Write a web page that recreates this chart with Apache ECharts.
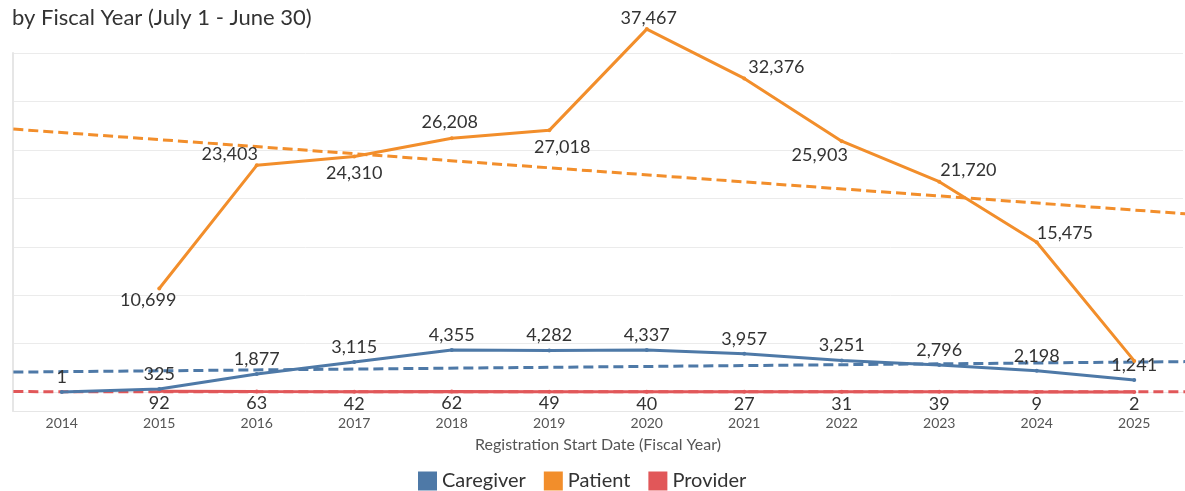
<!DOCTYPE html>
<html>
<head>
<meta charset="utf-8">
<script src="https://cdn.jsdelivr.net/npm/echarts@6/dist/echarts.min.js"></script>
<style>
	html, body { margin: 0; padding: 0; background: #fff; }
	#chart { width: 1185px; height: 491px; }
</style>
</head>
<body>
<div id="chart"></div>
<script>
// registrations by fiscal year
var years = ["2014", "2015", "2016", "2017", "2018", "2019", "2020", "2021", "2022", "2023", "2024", "2025"];
var caregiver = [1, 325, 1877, 3115, 4355, 4282, 4337, 3957, 3251, 2796, 2198, 1241];
var patient = [null, 10699, 23403, 24310, 26208, 27018, 37467, 32376, 25903, 21720, 15475, 3220];
var provider = [null, 92, 63, 42, 62, 49, 40, 27, 31, 39, 9, 2];

// trend lines, read at the left and right edges of the picture
var trendX = [-0.65, 11.55];
var patientTrend = [27260, 18390];
var caregiverTrend = [2050, 3150];
var providerTrend = [50, 40];

// horizontal grid lines
var gridValues = [0, 5000, 10000, 15000, 20000, 25000, 30000, 35000];

var chart = echarts.init(document.getElementById("chart"), null, { renderer: "canvas" });

var colors = {
	caregiver: "#4e79a7",
	patient: "#f28e2b",
	provider: "#e15759"
};
var font = "Lato, 'Open Sans', sans-serif";

// where each patient label sits (position, dx, dy)
var patientLabelPos = [
	null,
	["bottom", -11, -4],
	["top", -27, 5],
	["bottom", 0, 1],
	["top", -2, 0],
	["bottom", 13, 1],
	["top", 2, 5],
	["right", -3, -11],
	["bottom", -22, -2],
	["right", -6, -11],
	["right", -7, -9],
	null
];

function fmt(p) {
	var v = Array.isArray(p.value) ? p.value[1] : p.value;
	return v == null ? "" : Number(v).toLocaleString("en-US");
}

var labelStyle = {
	show: true,
	fontSize: 18,
	color: "#333",
	fontFamily: font,
	formatter: fmt
};

var patientData = patient.map(function (v, i) {
	var pos = patientLabelPos[i];
	if (!pos) return { value: v, label: { show: false } };
	return { value: v, label: { position: pos[0], offset: [pos[1], pos[2]] } };
});

function trend(name, vals, color) {
	return {
		name: name + " trend",
		type: "line",
		xAxisIndex: 1,
		data: [[trendX[0], vals[0]], [trendX[1], vals[1]]],
		showSymbol: false,
		clip: false,
		silent: true,
		z: 2,
		lineStyle: { color: color, width: 3, type: [10, 5] },
		animation: false
	};
}

var option = {
	animation: false,
	title: {
		text: "by Fiscal Year (July 1 - June 30)",
		left: 7,
		top: 2,
		textStyle: { fontSize: 22, fontWeight: "normal", color: "#333", fontFamily: font }
	},
	legend: {
		data: ["Caregiver", "Patient", "Provider"],
		left: 413,
		top: 466,
		icon: "rect",
		itemWidth: 19,
		itemHeight: 19,
		itemGap: 18,
		textStyle: { fontSize: 20, color: "#333", fontFamily: font }
	},
	grid: { left: 13, right: 2, top: 53, bottom: 80 },
	xAxis: [
		{
			type: "category",
			data: years,
			name: "Registration Start Date (Fiscal Year)",
			nameLocation: "middle",
			nameGap: 26,
			nameTextStyle: { fontSize: 16, color: "#555", fontFamily: font },
			axisLine: { show: true, onZero: false, lineStyle: { color: "#e6e6e6", width: 1 } },
			axisTick: { show: false },
			axisLabel: { color: "#555", fontSize: 14, margin: 5, fontFamily: font }
		},
		{
			type: "value",
			min: -0.5,
			max: 11.5,
			show: false
		}
	],
	yAxis: {
		type: "value",
		min: -1950,
		max: 35000,
		axisLine: { show: true, onZero: false, lineStyle: { color: "#e6e6e6", width: 2 } },
		axisTick: { show: false },
		axisLabel: { show: false },
		splitLine: { show: false }
	},
	series: [
		{
			name: "grid",
			type: "line",
			data: [],
			silent: true,
			z: 0,
			markLine: {
				z: 0,
				silent: true,
				symbol: ["none", "none"],
				label: { show: false },
				lineStyle: { color: "#ebebeb", type: "solid", width: 1 },
				data: gridValues.map(function (v) { return { yAxis: v }; })
			}
		},
		trend("Provider", providerTrend, colors.provider),
		trend("Caregiver", caregiverTrend, colors.caregiver),
		trend("Patient", patientTrend, colors.patient),
		{
			name: "Provider",
			type: "line",
			data: provider,
			symbol: "circle",
			symbolSize: 4,
			z: 3,
			itemStyle: { color: colors.provider },
			lineStyle: { width: 3, color: colors.provider },
			label: Object.assign({}, labelStyle, { position: "bottom", offset: [0, -4] })
		},
		{
			name: "Caregiver",
			type: "line",
			data: caregiver,
			symbol: "circle",
			symbolSize: 4,
			z: 4,
			itemStyle: { color: colors.caregiver },
			lineStyle: { width: 3 },
			label: Object.assign({}, labelStyle, { position: "top", offset: [0, 1] })
		},
		{
			name: "Patient",
			type: "line",
			data: patientData,
			symbol: "circle",
			symbolSize: 4,
			clip: false,
			z: 5,
			itemStyle: { color: colors.patient },
			lineStyle: { width: 3 },
			label: labelStyle
		}
	]
};
chart.setOption(option);
</script>
</body>
</html>
